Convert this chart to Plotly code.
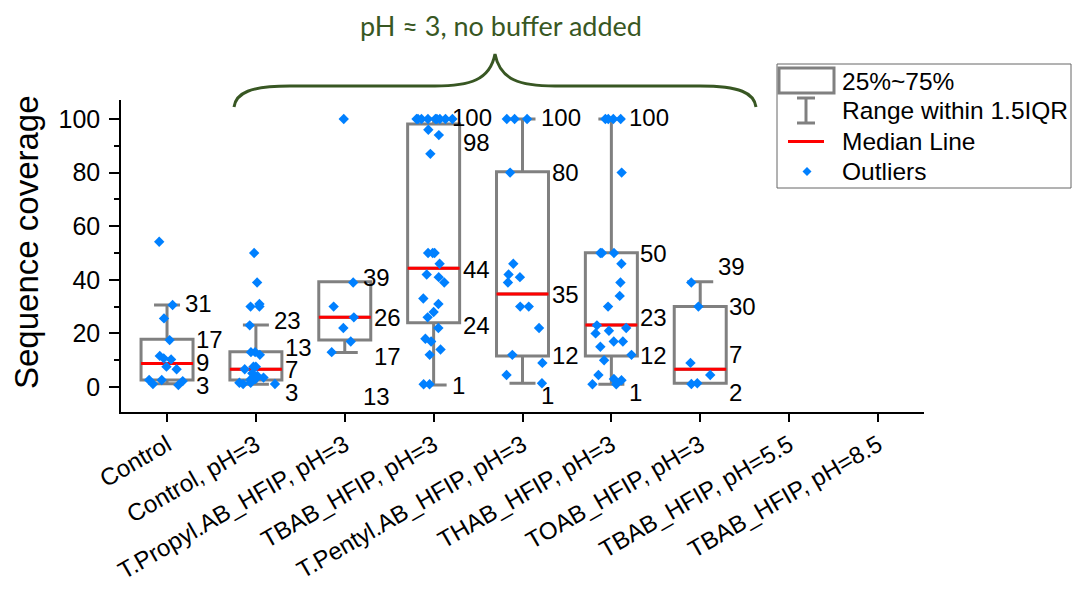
import plotly.graph_objects as go

# ---------------- data ----------------
categories = ["Control", "Control, pH=3", "T.Propyl.AB_HFIP, pH=3", "TBAB_HFIP, pH=3",
              "T.Pentyl.AB_HFIP, pH=3", "THAB_HFIP, pH=3", "TOAB_HFIP, pH=3",
              "TBAB_HFIP, pH=5.5", "TBAB_HFIP, pH=8.5"]

box_categories = categories[:7]
lower_fence = [1.2, 1.0, 12.9, 0.7, 1.4, 1.0, 1.4]
q1 = [2.6, 2.6, 17.5, 24.0, 11.6, 11.6, 1.4]
median = [8.8, 6.6, 26.0, 44.3, 34.7, 23.1, 6.6]
q3 = [17.8, 13.2, 39.3, 98.1, 80.3, 50.1, 30.0]
upper_fence = [30.6, 23.1, 39.3, 100, 100, 100, 39.3]

pts_control = [54.2, 30.6, 25.6, 17.5, 11.6, 10.3, 10.7, 7.6, 6.6, 2.6, 2.6, 2.2, 1.1, 0.7]
pts_control_ph3 = [50, 39, 31, 30, 30, 23, 13, 13, 12, 7.6, 7.6, 6.6, 5.1, 4.1, 3.5, 3.0,
                   2.6, 1.6, 1.6, 1.1, 1.1]
pts_tpropyl = [100, 39, 30, 26, 22, 17, 13]
pts_tbab = [100, 100, 100, 100, 100, 100, 100, 100, 100, 96, 94, 87, 50, 50, 50, 46, 42,
            41, 39, 33, 31, 28, 26, 22, 18, 17, 14, 12, 1, 1]
pts_tpentyl = [100, 100, 100, 80, 46, 42, 41, 39, 30, 30, 22, 12, 9, 4.5, 1.4]
pts_thab = [100, 100, 100, 100, 80, 50, 50, 50, 46, 39, 34, 30, 23, 22, 21, 20, 17, 17, 15,
            12, 10, 4.5, 3, 2.5, 1, 1]
pts_toab = [39, 30, 9, 4.5, 1.1, 1.4]
points = [pts_control, pts_control_ph3, pts_tpropyl, pts_tbab, pts_tpentyl, pts_thab, pts_toab]

# value labels beside each box: text, vertical position (data units), kind (w=whisker, b=box)
label_text = [["31", "17", "9", "3"],
              ["23", "13", "7", "3"],
              ["39", "26", "17", "13"],
              ["100", "98", "44", "24", "1"],
              ["100", "80", "35", "12", "1"],
              ["100", "50", "23", "12", "1"],
              ["39", "30", "7", "2"]]
label_y = [[31.3, 17.9, 9.0, 0.7],
           [25.0, 14.9, 6.7, -1.9],
           [41.0, 26.1, 11.2, -3.7],
           [100.4, 91.4, 43.7, 22.8, 0.7],
           [100.4, 80.2, 34.7, 11.6, -3.0],
           [100.4, 50.0, 26.1, 11.6, -2.2],
           [44.8, 30.2, 12.3, -2.2]]
label_kind = [["w", "b", "b", "b"],
              ["w", "b", "b", "b"],
              ["w", "b", "b", "w"],
              ["w", "b", "b", "b", "w"],
              ["w", "b", "b", "b", "w"],
              ["w", "b", "b", "b", "w"],
              ["w", "b", "b", "b"]]

legend_labels = ["25%~75%", "Range within 1.5IQR", "Median Line", "Outliers"]
group_text = "pH \u2248 3, no buffer added"
y_title = "Sequence coverage"

# ---------------- style ----------------
GRAY = "#808080"
BLUE = "#0080FF"
GREEN = "#385723"
FONT = "Liberation Sans, Arial, sans-serif"
BOX_W = 0.585

# plot area in pixels
L, R, T, B = 121, 924, 100, 412
W, H = R - L, B - T


def px(x):
    return (x - L) / W


def py(y):
    return (B - y) / H


fig = go.Figure()

fig.add_trace(go.Box(
    x=box_categories, q1=q1, median=median, q3=q3,
    lowerfence=lower_fence, upperfence=upper_fence,
    boxpoints=False, width=BOX_W, whiskerwidth=0.5,
    line=dict(color=GRAY, width=3), fillcolor="white",
    showlegend=False, hoverinfo="skip"))

fig.add_trace(go.Box(
    x=box_categories, q1=median, median=median, q3=median,
    lowerfence=median, upperfence=median,
    boxpoints=False, width=BOX_W, whiskerwidth=0,
    line=dict(color="red", width=3), fillcolor="rgba(0,0,0,0)",
    showlegend=False, hoverinfo="skip"))

px_x, px_y = [], []
for cat, vals in zip(box_categories, points):
    px_x += [cat] * len(vals)
    px_y += vals

fig.add_trace(go.Box(
    x=px_x, y=px_y, boxpoints="all", jitter=0.85, pointpos=0, width=BOX_W,
    line=dict(color="rgba(0,0,0,0)", width=0), fillcolor="rgba(0,0,0,0)",
    marker=dict(symbol="diamond", size=8, color=BLUE, line=dict(width=0)),
    showlegend=False, whiskerwidth=0))

annotations = []
dx = {"w": 16 / 88.875, "b": 27 / 88.875}
for i in range(len(box_categories)):
    for t, yv, k in zip(label_text[i], label_y[i], label_kind[i]):
        annotations.append(dict(x=i + dx[k], y=yv, xref="x", yref="y", text=t,
                                showarrow=False, xanchor="left", yanchor="middle",
                                font=dict(family=FONT, size=24, color="black")))

# legend (custom)
shapes = []
shapes.append(dict(type="rect", xref="paper", yref="paper",
                   x0=px(777), x1=px(1071), y0=py(188), y1=py(64),
                   line=dict(color="#666666", width=1), fillcolor="white", layer="above"))
shapes.append(dict(type="rect", xref="paper", yref="paper",
                   x0=px(779), x1=px(834), y0=py(93), y1=py(68),
                   line=dict(color=GRAY, width=3), fillcolor="white", layer="above"))
for seg in [((806, 98), (806, 123)), ((797, 98), (815, 98)), ((797, 123), (815, 123))]:
    shapes.append(dict(type="line", xref="paper", yref="paper",
                       x0=px(seg[0][0]), y0=py(seg[0][1]), x1=px(seg[1][0]), y1=py(seg[1][1]),
                       line=dict(color=GRAY, width=3), layer="above"))
shapes.append(dict(type="line", xref="paper", yref="paper",
                   x0=px(788), x1=px(824), y0=py(141.5), y1=py(141.5),
                   line=dict(color="red", width=3), layer="above"))
dpath = "M {:.5f},{:.5f} L {:.5f},{:.5f} L {:.5f},{:.5f} L {:.5f},{:.5f} Z".format(
    px(807), py(167), px(811.5), py(171.5), px(807), py(176), px(802.5), py(171.5))
shapes.append(dict(type="path", xref="paper", yref="paper", path=dpath,
                   fillcolor=BLUE, line=dict(color=BLUE, width=0), layer="above"))
for lab, yy in zip(legend_labels, [81, 110, 141, 171]):
    annotations.append(dict(x=px(840), y=py(yy), xref="paper", yref="paper", text=lab,
                            showarrow=False, xanchor="left", yanchor="middle",
                            font=dict(family=FONT, size=24.5, color="black")))

# curly brace
brace_pts = [("M", [(234, 107)]),
             ("C", [(236, 93), (250, 86), (290, 86)]),
             ("L", [(435, 86)]),
             ("C", [(470, 86), (490, 80), (495, 54)]),
             ("C", [(500, 80), (520, 86), (555, 86)]),
             ("L", [(700, 86)]),
             ("C", [(740, 86), (754, 93), (756, 107)])]
path = ""
for cmd, pts in brace_pts:
    path += cmd + " " + " ".join("{:.5f},{:.5f}".format(px(a), py(b)) for a, b in pts) + " "
shapes.append(dict(type="path", xref="paper", yref="paper", path=path.strip(),
                   line=dict(color=GREEN, width=3)))
annotations.append(dict(x=px(501), y=py(26), xref="paper", yref="paper", text=group_text,
                        showarrow=False, xanchor="center", yanchor="middle",
                        font=dict(family="Lato, Open Sans, sans-serif", size=27, color=GREEN)))

# y-axis title
annotations.append(dict(x=px(26), y=py(242), xref="paper", yref="paper", text=y_title,
                        textangle=-90, showarrow=False, xanchor="center", yanchor="middle",
                        font=dict(family=FONT, size=33, color="black")))

fig.update_layout(
    width=1072, height=593, autosize=False,
    margin=dict(l=L, r=1072 - R, t=T, b=593 - B, autoexpand=False),
    paper_bgcolor="white", plot_bgcolor="white",
    boxmode="overlay", showlegend=False,
    shapes=shapes, annotations=annotations,
    font=dict(family=FONT, color="black"),
    xaxis=dict(type="category", categoryorder="array", categoryarray=categories,
               range=[-0.518, 8.518], showline=True, linecolor="black", linewidth=1.5,
               ticks="outside", ticklen=8, tickwidth=1.5, tickcolor="black",
               tickangle=-30, tickfont=dict(family=FONT, size=24, color="black"),
               showgrid=False, zeroline=False, automargin=False),
    yaxis=dict(range=[-9.33, 107.1], tickvals=[0, 20, 40, 60, 80, 100],
               showline=True, linecolor="black", linewidth=1.5,
               ticks="outside", ticklen=10, tickwidth=1.5, tickcolor="black",
               minor=dict(tickvals=[10, 30, 50, 70, 90], ticks="outside", ticklen=5,
                          tickwidth=1.5, tickcolor="black"),
               tickfont=dict(family=FONT, size=25, color="black"),
               ticklabelstandoff=4, automargin=False,
               showgrid=False, zeroline=False),
)

fig.write_html("out.html")
